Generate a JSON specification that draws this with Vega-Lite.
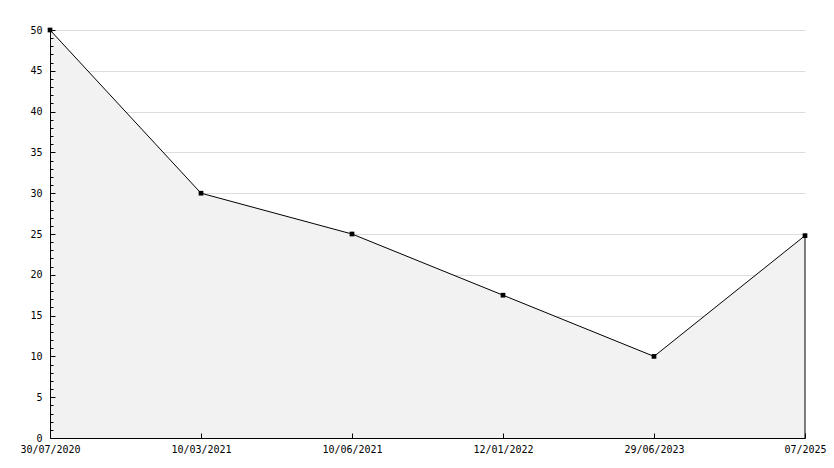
{
  "$schema": "https://vega.github.io/schema/vega-lite/v6.json",
  "width": 755,
  "height": 408,
  "autosize": {"type": "none"},
  "padding": {"left": 50, "top": 30, "right": 29, "bottom": 30},
  "background": "white",
  "config": {
    "view": {"stroke": null},
    "axis": {"labelFont": "DejaVu Sans Mono", "labelFontSize": 10, "labelColor": "#000", "domainColor": "#000", "tickColor": "#000", "title": null}
  },
  "data": {"values": [
    {"date": "30/07/2020", "value": 50},
    {"date": "10/03/2021", "value": 30},
    {"date": "10/06/2021", "value": 25},
    {"date": "12/01/2022", "value": 17.5},
    {"date": "29/06/2023", "value": 10},
    {"date": "07/2025", "value": 24.8}
  ]},
  "resolve": {"axis": {"x": "independent", "y": "independent"}},
  "layer": [
    {"mark": {"type": "area", "color": "#f2f2f2", "opacity": 1},
     "encoding": {
      "x": {"field": "date", "type": "ordinal", "sort": null, "scale": {"type": "point", "padding": 0},
        "axis": {"title": null, "orient": "bottom", "labelAngle": 0, "ticks": false, "labelPadding": 6, "labelBaseline": "top", "zindex": 1}},
      "y": {"field": "value", "type": "quantitative", "scale": {"domain": [0, 50], "nice": false},
        "axis": {"title": null, "orient": "left", "values": [0,5,10,15,20,25,30,35,40,45,50], "ticks": false,
          "grid": false, "labelPadding": 8, "labelBaseline": "middle", "zindex": 1}}
     }},
    {"mark": {"type": "line", "color": "#000", "strokeWidth": 1},
     "encoding": {
      "x": {"field": "date", "type": "ordinal", "sort": null,
        "axis": {"title": null, "orient": "top", "offset": -408, "labels": false, "domain": false, "tickSize": 5, "zindex": 1}},
      "y": {"field": "value", "type": "quantitative",
        "axis": {"title": null, "orient": "right", "offset": -755, "labels": false, "domain": false, "grid": false, "zindex": 1,
          "values": [0,1,2,3,4,5,6,7,8,9,10,11,12,13,14,15,16,17,18,19,20,21,22,23,24,25,26,27,28,29,30,31,32,33,34,35,36,37,38,39,40,41,42,43,44,45,46,47,48,49,50],
          "tickSize": {"condition": {"test": "datum.value % 5 === 0", "value": 5}, "value": 3}}}
     }},
    {"transform": [{"filter": "datum.date === '07/2025'"}],
     "mark": {"type": "rule", "color": "#000", "strokeWidth": 1},
     "encoding": {
      "x": {"field": "date", "type": "ordinal", "sort": null, "axis": null},
      "y": {"field": "value", "type": "quantitative",
        "axis": {"title": null, "orient": "left", "values": [5,10,15,20,25,30,35,40,45,50], "labels": false, "domain": false, "ticks": false,
          "grid": true, "gridColor": "#dddddd", "zindex": 0}},
      "y2": {"datum": 0}}},
    {"mark": {"type": "point", "shape": "square", "filled": true, "color": "#000", "size": 22, "opacity": 1},
     "encoding": {
      "x": {"field": "date", "type": "ordinal", "sort": null, "axis": null},
      "y": {"field": "value", "type": "quantitative", "axis": null}}}
  ]
}
